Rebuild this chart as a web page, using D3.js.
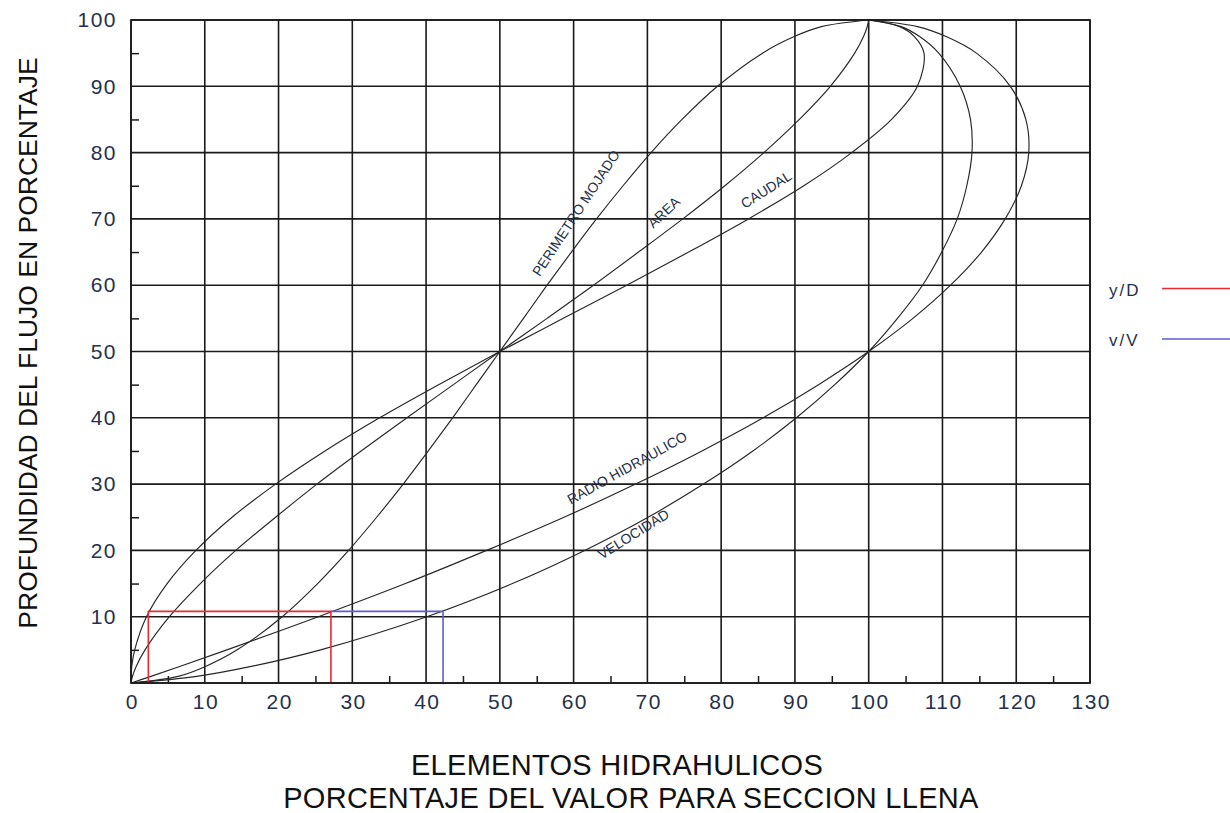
<!DOCTYPE html>
<html>
<head>
<meta charset="utf-8">
<script src="https://cdnjs.cloudflare.com/ajax/libs/d3/7.8.5/d3.min.js"></script>
<style>
	body { margin: 0; background: #fff; }
	svg { display: block; font-family: "Liberation Sans", Arial, sans-serif; }
</style>
</head>
<body>
<div class="content"></div>
<script>
// profundidad del flujo (%) - eje vertical
var depth = [0, 1, 2.5, 5, 10, 15, 20, 25, 30, 35, 40, 45, 50, 55, 60, 65, 70, 75, 80, 85, 90, 95, 97.5, 99, 100];

// elementos hidraulicos (% del valor a seccion llena)
var perimetro = [0, 6.4, 10.1, 14.4, 20.5, 25.3, 29.5, 33.3, 36.9, 40.3, 43.6, 46.8, 50, 53.2, 56.4, 59.7, 63.1, 66.7, 70.5, 74.7, 79.5, 85.6, 89.9, 93.6, 100];
var area = [0, 0.2, 0.7, 1.9, 5.2, 9.4, 14.2, 19.6, 25.2, 31.2, 37.4, 43.7, 50, 56.4, 62.7, 68.8, 74.8, 80.5, 85.8, 90.6, 94.8, 98.1, 99.3, 99.8, 100];
var caudal = [0, 0.02, 0.1, 0.5, 2.1, 4.9, 8.8, 13.7, 19.6, 26.3, 33.7, 41.7, 50, 58.6, 67.2, 75.6, 83.7, 91.2, 97.7, 103.1, 106.6, 107.5, 106.2, 104.2, 100];
var radio = [0, 2.7, 6.6, 13.0, 25.4, 37.2, 48.2, 58.7, 68.4, 77.4, 85.7, 93.2, 100, 106.0, 111.1, 115.3, 118.5, 120.7, 121.7, 121.3, 119.2, 114.6, 110.5, 106.6, 100];
var velocidad = [0, 8.9, 16.3, 25.7, 40.1, 51.7, 61.5, 70.1, 77.6, 84.3, 90.2, 95.4, 100, 103.9, 107.3, 109.9, 112.0, 113.3, 114.0, 113.8, 112.4, 109.5, 106.9, 104.4, 100];

var seriesNames = ["PERIMETRO MOJADO", "AREA", "CAUDAL", "RADIO HIDRAULICO", "VELOCIDAD"];
var seriesValues = [perimetro, area, caudal, radio, velocidad];

var xTicks = [0, 10, 20, 30, 40, 50, 60, 70, 80, 90, 100, 110, 120, 130];
var yTicks = [10, 20, 30, 40, 50, 60, 70, 80, 90, 100];
var xMinor = [5, 15, 25, 35, 45, 55, 65, 75, 85, 95, 105, 115, 125];
var yMinor = [5, 15, 25, 35, 45, 55, 65, 75, 85, 95];

// lectura de ejemplo: y/D (rojo) y v/V (azul)
var readDepth = 10.8;
var readCaudal = 2.35;
var readRadio = 27.1;
var readVelocidad = 42.3;

// etiquetas de curva: posicion en unidades del grafico, angulo en pantalla
var labelX = [55.4, 70.8, 83.2, 59.6, 63.8];
var labelY = [61.2, 68.5, 71.5, 26.9, 18.6];
var labelAngle = [-56.7, -43, -32.3, -29, -32];

var legendNames = ["y/D", "v/V"];
var legendColors = ["#ec2833", "#5c5cd4"];

var width = 1230, height = 813;

var svg = d3.select(".content")
	.append("svg")
	.attr("width", width)
	.attr("height", height);

svg.append("rect")
	.attr("width", width)
	.attr("height", height)
	.attr("fill", "#fff");

var x = d3.scaleLinear().domain([0, 130]).range([131, 1090]);
var y = d3.scaleLinear().domain([0, 100]).range([683, 20]);

var gridColor = "#1a1a1a";
var labelColor = "#25304a";

/** grid lines every 10 */
svg.append("g")
	.selectAll("line.vgrid")
	.data(xTicks)
	.enter()
	.append("line")
	.attr("x1", function(d) { return x(d); })
	.attr("x2", function(d) { return x(d); })
	.attr("y1", y(0))
	.attr("y2", y(100))
	.attr("stroke", gridColor)
	.attr("stroke-width", 1.6);

svg.append("g")
	.selectAll("line.hgrid")
	.data([0].concat(yTicks))
	.enter()
	.append("line")
	.attr("x1", x(0))
	.attr("x2", x(130))
	.attr("y1", function(d) { return y(d); })
	.attr("y2", function(d) { return y(d); })
	.attr("stroke", gridColor)
	.attr("stroke-width", 1.6);

/** minor ticks, pointing inward */
var minorLeft = svg.append("g")
	.attr("transform", "translate(" + x(0) + ",0)")
	.call(d3.axisLeft(y).tickValues(yMinor).tickSize(-8).tickFormat(""));
var minorBottom = svg.append("g")
	.attr("transform", "translate(0," + y(0) + ")")
	.call(d3.axisBottom(x).tickValues(xMinor).tickSize(-7).tickFormat(""));
[minorLeft, minorBottom].forEach(function(g) {
	g.select(".domain").remove();
	g.selectAll("line").attr("stroke", gridColor).attr("stroke-width", 1.5);
});

/** tick labels */
var yAxis = svg.append("g")
	.attr("transform", "translate(" + x(0) + ",0)")
	.call(d3.axisLeft(y).tickValues(yTicks).tickSize(0).tickPadding(14));
var xAxis = svg.append("g")
	.attr("transform", "translate(0," + y(0) + ")")
	.call(d3.axisBottom(x).tickValues(xTicks).tickSize(0).tickPadding(11));
[yAxis, xAxis].forEach(function(g) {
	g.select(".domain").remove();
	g.selectAll("text")
		.attr("fill", labelColor)
		.style("font-size", "21px")
		.style("font-family", "'Liberation Sans', Arial, sans-serif")
		.style("letter-spacing", "1.5px");
});
xAxis.selectAll("text").attr("dx", "0.75px");

/** curves */
var line = d3.line()
	.x(function(d) { return x(d[0]); })
	.y(function(d) { return y(d[1]); })
	.curve(d3.curveCatmullRom.alpha(0.5));

seriesValues.forEach(function(vals, i) {
	var pts = vals.map(function(v, j) { return [v, depth[j]]; });
	svg.append("path")
		.datum(pts)
		.attr("d", line)
		.attr("fill", "none")
		.attr("stroke", "#262626")
		.attr("stroke-width", 1.15);
});

/** curve labels */
seriesNames.forEach(function(name, i) {
	svg.append("text")
		.text(name)
		.attr("transform", "translate(" + x(labelX[i]) + "," + y(labelY[i]) + ") rotate(" + labelAngle[i] + ")")
		.attr("fill", labelColor)
		.style("font-size", "14px");
});

/** lectura y/D en rojo, v/V en azul */
var straight = d3.line()
	.x(function(d) { return x(d[0]); })
	.y(function(d) { return y(d[1]); });

svg.append("path")
	.datum([[readCaudal, 0], [readCaudal, readDepth], [readRadio, readDepth], [readRadio, 0]])
	.attr("d", straight)
	.attr("fill", "none")
	.attr("stroke", legendColors[0])
	.attr("stroke-width", 1.6);

svg.append("path")
	.datum([[readRadio, readDepth], [readVelocidad, readDepth], [readVelocidad, -0.2]])
	.attr("d", straight)
	.attr("fill", "none")
	.attr("stroke", legendColors[1])
	.attr("stroke-width", 1.6);

/** frame */
svg.append("rect")
	.attr("x", x(0))
	.attr("y", y(100))
	.attr("width", x(130) - x(0))
	.attr("height", y(0) - y(100))
	.attr("fill", "none")
	.attr("stroke", gridColor)
	.attr("stroke-width", 1.7);

/** legend */
legendNames.forEach(function(name, i) {
	var ly = 288.5 + i * 50.5;
	svg.append("text")
		.text(name)
		.attr("x", 1109)
		.attr("y", ly + 7)
		.attr("fill", labelColor)
		.style("font-size", "17px")
		.style("letter-spacing", "2px");
	svg.append("line")
		.attr("x1", 1162)
		.attr("x2", 1230)
		.attr("y1", ly)
		.attr("y2", ly)
		.attr("stroke", legendColors[i])
		.attr("stroke-width", 1.5);
});

/** axis titles */
svg.append("text")
	.text("PROFUNDIDAD DEL FLUJO EN PORCENTAJE")
	.attr("transform", "translate(37,343) rotate(-90)")
	.attr("text-anchor", "middle")
	.attr("fill", "#111")
	.style("font-size", "26.5px");

svg.append("text")
	.text("ELEMENTOS HIDRAHULICOS")
	.attr("x", 617)
	.attr("y", 775)
	.attr("text-anchor", "middle")
	.attr("fill", "#111")
	.style("font-size", "29px")
	.style("letter-spacing", "0.3px");

svg.append("text")
	.text("PORCENTAJE DEL VALOR PARA SECCION LLENA")
	.attr("x", 631)
	.attr("y", 808)
	.attr("text-anchor", "middle")
	.attr("fill", "#111")
	.style("font-size", "29px")
	.style("letter-spacing", "0.3px");
</script>
</body>
</html>
